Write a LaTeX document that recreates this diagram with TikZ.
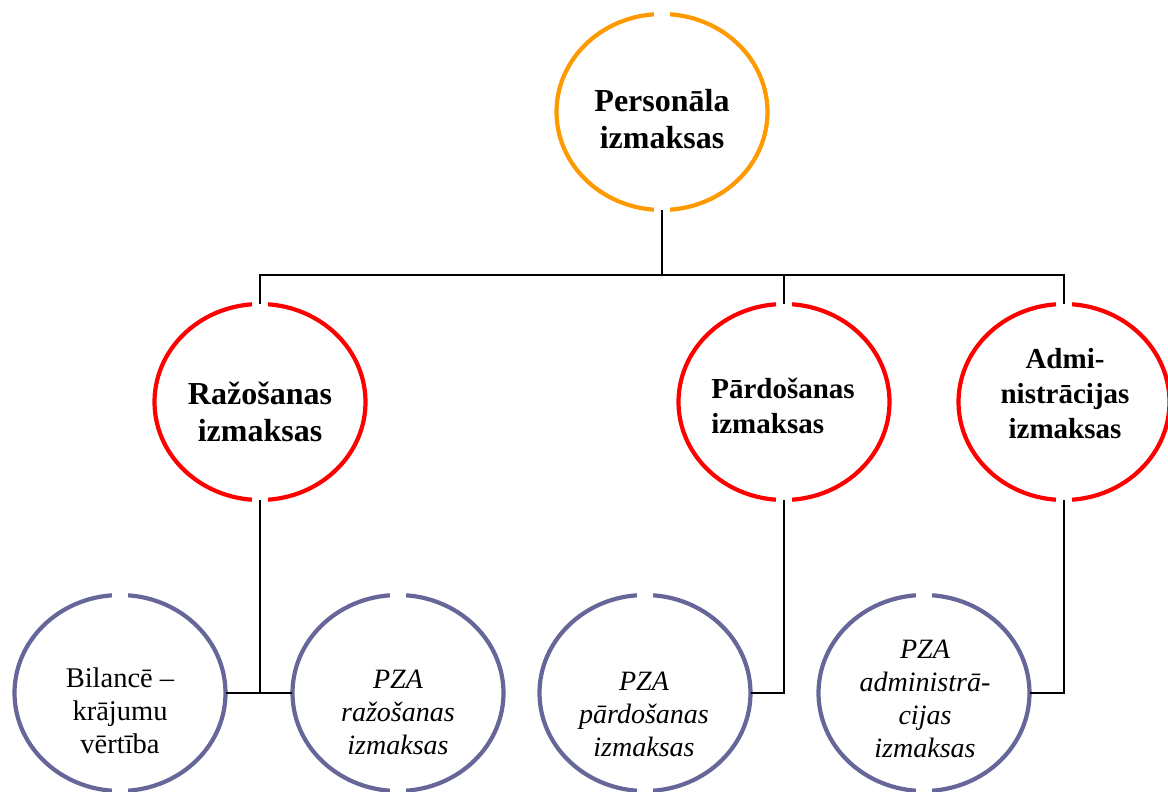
\documentclass[tikz,border=0pt]{standalone}
\usepackage{fontspec}
\setmainfont{Liberation Serif}
\usetikzlibrary{shapes.geometric}

\definecolor{ringorange}{RGB}{255,153,0}
\definecolor{ringred}{RGB}{255,0,0}
\definecolor{ringviolet}{RGB}{102,102,153}

% a ring with small openings at top and bottom, drawn round a named node
\newcommand{\gapring}[2]{%
  \draw[ringline,#2] ([shift={(94.4:105.5pt and 98pt)}]#1.center)
    arc[start angle=94.4,end angle=265.6,x radius=105.5pt,y radius=98pt];
  \draw[ringline,#2] ([shift={(-85.6:105.5pt and 98pt)}]#1.center)
    arc[start angle=-85.6,end angle=85.6,x radius=105.5pt,y radius=98pt];
}

\begin{document}
\begin{tikzpicture}[x=1pt,y=-1pt,
  ring/.style={ellipse,draw=none,inner sep=0pt,minimum width=211pt,minimum height=196pt},
  ringline/.style={line width=4.2pt},
  link/.style={line width=1.3pt,black},
  headbig/.style={anchor=north,inner sep=0pt,align=center,font=\fontsize{32}{37}\selectfont\bfseries},
  headmid/.style={anchor=north,inner sep=0pt,align=center,font=\fontsize{29}{35}\selectfont\bfseries},
  leafit/.style={anchor=north,inner sep=0pt,align=center,font=\fontsize{28}{33}\selectfont\itshape},
  leafrm/.style={anchor=north,inner sep=0pt,align=center,font=\fontsize{28.5}{33}\selectfont}]

\fill[white] (0,0) rectangle (1168,792);
\useasboundingbox (0,0) rectangle (1168,792);

% rings
\node[ring] (pers) at (662,112) {};
\node[ring] (raz)  at (260,402) {};
\node[ring] (pard) at (784,402) {};
\node[ring] (adm)  at (1064,402) {};
\node[ring] (bil)  at (120,693) {};
\node[ring] (pzr)  at (398,693) {};
\node[ring] (pzp)  at (645,693) {};
\node[ring] (pza)  at (924,693) {};

\gapring{pers}{ringorange}
\gapring{raz}{ringred}
\gapring{pard}{ringred}
\gapring{adm}{ringred}
\gapring{bil}{ringviolet}
\gapring{pzr}{ringviolet}
\gapring{pzp}{ringviolet}
\gapring{pza}{ringviolet}

% labels
\node[headbig] (pers-t) at (662,89) {Personāla\\izmaksas};
\node[headbig] (raz-t) at (260,382) {Ražošanas\\izmaksas};
\node[headmid,align=left] (pard-t) at (783,378) {Pārdošanas\\izmaksas};
\node[headmid] (adm-t) at (1065,348) {Admi-\\nistrācijas\\izmaksas};
\node[leafrm] (bil-t) at (120,668) {Bilancē –\\krājumu\\vērtība};
\node[leafit] (pzr-t) at (398,670) {PZA\\ražošanas\\izmaksas};
\node[leafit] (pzp-t) at (644,672) {PZA\\pārdošanas\\izmaksas};
\node[leafit] (pza-t) at (925,640) {PZA\\administrā-\\cijas\\izmaksas};

% connectors
\coordinate (bar) at (662,275);
\draw[link] (pers.south) -- (bar);
\draw[link] (raz.north) |- (bar) -| (adm.north);
\draw[link] (pard.north) -- (pard.north |- bar);
\draw[link] (bil.east) -- (pzr.west);
\draw[link] (raz.south) -- (raz.south |- bil.east);
\draw[link] (pard.south) |- (pzp.east);
\draw[link] (adm.south) |- (pza.east);
\end{tikzpicture}
\end{document}
